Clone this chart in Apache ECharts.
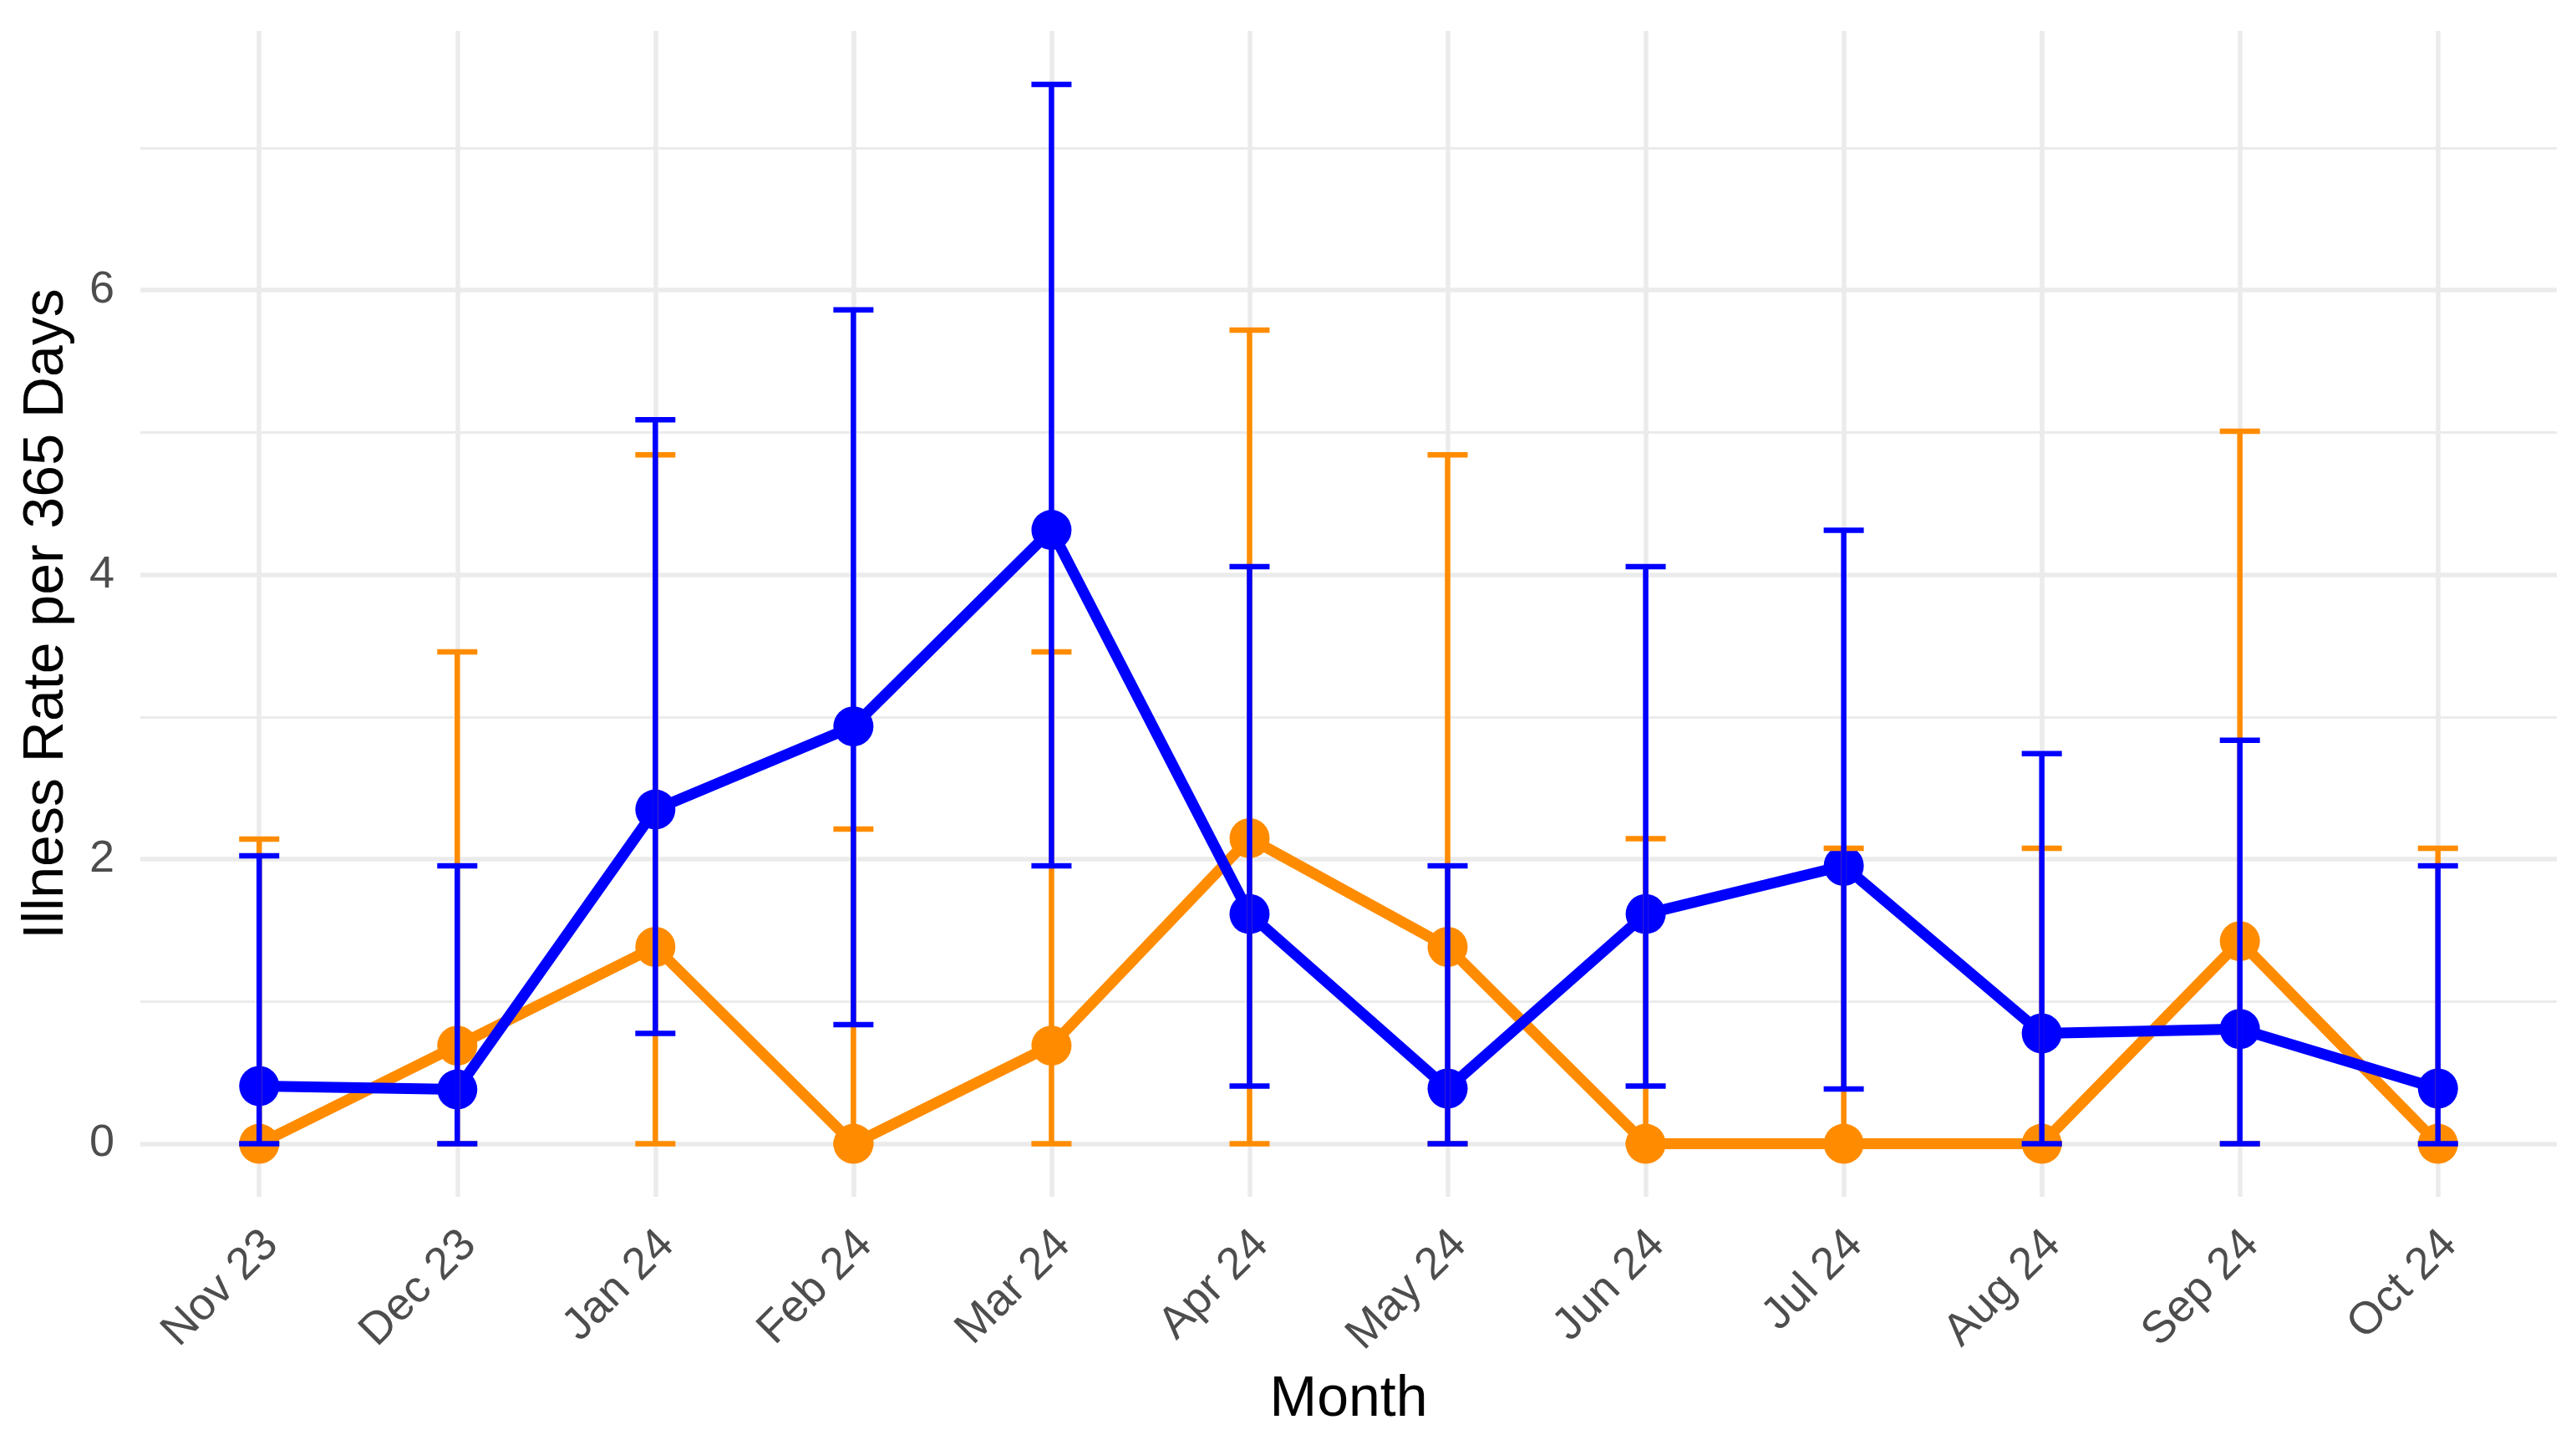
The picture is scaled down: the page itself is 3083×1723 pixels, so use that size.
<!DOCTYPE html>
<html>
<head>
<meta charset="utf-8">
<script src="https://cdn.jsdelivr.net/npm/echarts@6/dist/echarts.min.js"></script>
<style>
html,body{margin:0;padding:0;background:#fff;}
#chart{width:3083px;height:1723px;}
</style>
</head>
<body>
<div id="chart"></div>
<script>
const categories = ['Nov 23','Dec 23','Jan 24','Feb 24','Mar 24','Apr 24','May 24','Jun 24','Jul 24','Aug 24','Sep 24','Oct 24'];
const blueRate  = [0.406, 0.382, 2.35, 2.934, 4.315, 1.615, 0.388, 1.615, 1.954, 0.776, 0.807, 0.388];
const blueLow   = [0, 0, 0.776, 0.838, 1.954, 0.406, 0, 0.406, 0.385, 0, 0, 0];
const blueHigh  = [2.025, 1.954, 5.09, 5.862, 7.446, 4.057, 1.954, 4.057, 4.312, 2.743, 2.836, 1.954];
const orangeRate = [0, 0.690, 1.384, 0, 0.690, 2.148, 1.384, 0, 0, 0, 1.424, 0];
const orangeLow  = [0, 0, 0, 0, 0, 0, 0, 0, 0, 0, 0, 0];
const orangeHigh = [2.142, 3.458, 4.843, 2.213, 3.458, 5.72, 4.843, 2.145, 2.077, 2.077, 5.008, 2.077];
const yMajorTicks = [0, 2, 4, 6];
const yMinorTicks = [1, 3, 5, 7];

const BLUE = '#0000FF', ORANGE = '#FF8C00';
const idx = categories.map((c, i) => i);
const pts = arr => arr.map((v, i) => [i, v]);
const bars = (lo, hi) => lo.map((v, i) => [i, v, hi[i]]);

function errRender(color) {
  return function (params, api) {
    const x = api.value(0);
    const p0 = api.coord([x, api.value(1)]);
    const p1 = api.coord([x, api.value(2)]);
    const hw = 24;
    const st = { stroke: color, lineWidth: 6.5 };
    return { type: 'group', children: [
      { type: 'line', shape: { x1: p0[0], y1: p0[1], x2: p1[0], y2: p1[1] }, style: st },
      { type: 'line', shape: { x1: p0[0]-hw, y1: p0[1], x2: p0[0]+hw, y2: p0[1] }, style: st },
      { type: 'line', shape: { x1: p1[0]-hw, y1: p1[1], x2: p1[0]+hw, y2: p1[1] }, style: st }
    ]};
  };
}

const chart = echarts.init(document.getElementById('chart'));
const FONT = 'Liberation Sans';
chart.setOption({
  animation: false,
  backgroundColor: '#fff',
  textStyle: { fontFamily: FONT },
  grid: { left: 168, right: 23, top: 37, bottom: 291, containLabel: false },
  xAxis: {
    type: 'value', min: -0.6, max: 11.6,
    name: 'Month', nameLocation: 'middle', nameGap: 209,
    nameTextStyle: { fontSize: 68, color: '#000', fontFamily: FONT },
    axisLine: { show: false },
    axisTick: { show: false, customValues: idx },
    splitLine: { show: true, customValues: idx, lineStyle: { color: '#EBEBEB', width: 5.5 } },
    axisLabel: { customValues: idx, rotate: 45, fontSize: 54, color: '#4D4D4D', margin: 35, fontFamily: FONT,
      verticalAlign: 'top', lineHeight: 40, padding: 0,
      formatter: v => categories[Math.round(v)] }
  },
  yAxis: [{
    type: 'value', min: -0.3725, max: 7.8225,
    name: 'Illness Rate per 365 Days', nameLocation: 'middle', nameGap: 78, nameRotate: 90,
    nameTextStyle: { fontSize: 68, color: '#000', fontFamily: FONT },
    axisLine: { show: false },
    axisTick: { show: false, customValues: yMajorTicks },
    splitLine: { show: true, customValues: yMajorTicks, lineStyle: { color: '#EBEBEB', width: 5.5 } },
    axisLabel: { customValues: yMajorTicks, fontSize: 54, color: '#4D4D4D', margin: 31, fontFamily: FONT,
      formatter: v => String(Math.round(v)) }
  }, {
    type: 'value', min: -0.3725, max: 7.8225, position: 'left',
    axisLine: { show: false },
    axisTick: { show: false, customValues: yMinorTicks },
    splitLine: { show: true, customValues: yMinorTicks, lineStyle: { color: '#EBEBEB', width: 2.8 } },
    axisLabel: { show: false, customValues: yMinorTicks }
  }],
  series: [
    { type: 'line', data: pts(orangeRate), showSymbol: false, lineStyle: { color: ORANGE, width: 13 }, z: 2 },
    { type: 'line', data: pts(blueRate), showSymbol: false, lineStyle: { color: BLUE, width: 13 }, z: 2 },
    { type: 'scatter', data: pts(orangeRate), symbolSize: 48, itemStyle: { color: ORANGE, opacity: 1 }, z: 3 },
    { type: 'scatter', data: pts(blueRate), symbolSize: 48, itemStyle: { color: BLUE, opacity: 1 }, z: 3 },
    { type: 'custom', data: bars(orangeLow, orangeHigh), renderItem: errRender(ORANGE), z: 4,
      encode: { x: 0, y: [1, 2] } },
    { type: 'custom', data: bars(blueLow, blueHigh), renderItem: errRender(BLUE), z: 4,
      encode: { x: 0, y: [1, 2] } }
  ]
});
</script>
</body>
</html>
